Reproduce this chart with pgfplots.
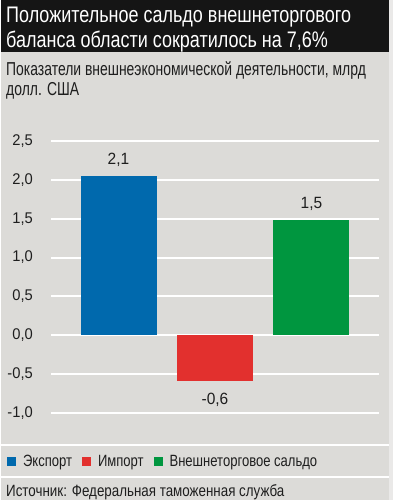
\documentclass[border=0pt]{standalone}
\usepackage{fontspec}
\usepackage{pgfplots}
\pgfplotsset{compat=1.18}
\setmainfont{Liberation Sans}
\newfontfamily\cond[FakeStretch=0.8]{Liberation Sans}
\newfontfamily\condsub[FakeStretch=0.745]{Liberation Sans}
\newfontfamily\condsrc[FakeStretch=0.82]{Liberation Sans}
\newfontfamily\condn[FakeStretch=0.95]{Liberation Sans}
\definecolor{bg}{HTML}{DCDBD8}
\definecolor{tbg}{HTML}{151515}
\definecolor{cblue}{HTML}{0069AD}
\definecolor{cred}{HTML}{E2302E}
\definecolor{cgreen}{HTML}{00963F}
\definecolor{txt}{HTML}{1E1E1E}
\begin{document}
\begin{tikzpicture}
\fill[bg] (0pt,0pt) rectangle (392pt,-500pt);
\fill[tbg] (0pt,0pt) rectangle (388pt,-52pt);
\fill[white!40!bg] (388pt,0pt) rectangle (392pt,-500pt);
\draw[white, line width=2pt] (0pt,-445pt) -- (388pt,-445pt);
\draw[white, line width=2pt] (0pt,-477pt) -- (388pt,-477pt);
\node[anchor=base west, inner sep=0pt, text=white, font=\cond\fontsize{22.5}{25}\selectfont] at (5pt,-23pt) {Положительное сальдо внешнеторгового};
\node[anchor=base west, inner sep=0pt, text=white, font=\cond\fontsize{22.5}{25}\selectfont] at (5pt,-48pt) {баланса области сократилось на 7,6\%};
\node[anchor=base west, inner sep=0pt, text=txt, font=\condsub\fontsize{18.7}{20}\selectfont] at (5pt,-75.7pt) {Показатели внешнеэкономической деятельности, млрд};
\node[anchor=base west, inner sep=0pt, text=txt, font=\condsub\fontsize{18.7}{20}\selectfont] at (5pt,-96pt) {долл. США};
\node[anchor=base west, inner sep=0pt, text=txt, font=\condsrc\fontsize{16.3}{18}\selectfont] at (5pt,-496.7pt) {Источник: Федеральная таможенная служба};
\begin{axis}[
  at={(50pt,-413pt)}, anchor=south west,
  scale only axis, width=328pt, height=272pt,
  xmin=-0.7, xmax=2.7, ymin=-1, ymax=2.5,
  ytick={-1,-0.5,0,0.5,1,1.5,2,2.5},
  xtick=\empty,
  axis line style={draw=none},
  tick style={draw=none},
  ymajorgrids, major grid style={white, line width=2pt},
  clip=false,
  yticklabel style={/pgf/number format/.cd, use comma, fixed, fixed zerofill, precision=1, assume math mode=true,
     /tikz/.cd, font=\condn\fontsize{15.5}{17}\selectfont, text=txt, anchor=east, inner sep=0pt, xshift=-18pt},
  ybar, bar width=76pt, bar shift=0pt,
  point meta=explicit symbolic,
  nodes near coords,
  every node near coord/.append style={font=\condn\fontsize{16.3}{18}\selectfont, text=txt, anchor=base, inner sep=0pt},
  legend columns=3,
  legend style={at={(-0.134,-0.180)}, anchor=west, draw=none, fill=none, inner sep=0pt, outer sep=0pt,
    font=\cond\fontsize{16.3}{18}\selectfont, text=txt,
    nodes={inner sep=0pt},
    /tikz/every odd column/.append style={column sep=7pt},
    /tikz/every even column/.append style={column sep=10pt}},
  legend image code/.code={\fill[#1, draw=none] (0pt,-4.5pt) rectangle (9pt,4.5pt);},
]
\addplot[fill=cblue, draw=none, every node near coord/.append style={yshift=11.6pt}] coordinates {(0,2.05) [2{,}1]};
\addplot[fill=cred, draw=none, every node near coord/.append style={yshift=-23.4pt}] coordinates {(1,-0.59) [-0{,}6]};
\addplot[fill=cgreen, draw=none, every node near coord/.append style={yshift=11.6pt}] coordinates {(2,1.48) [1{,}5]};
\legend{Экспорт, Импорт, Внешнеторговое сальдо}
\end{axis}
\end{tikzpicture}
\end{document}
